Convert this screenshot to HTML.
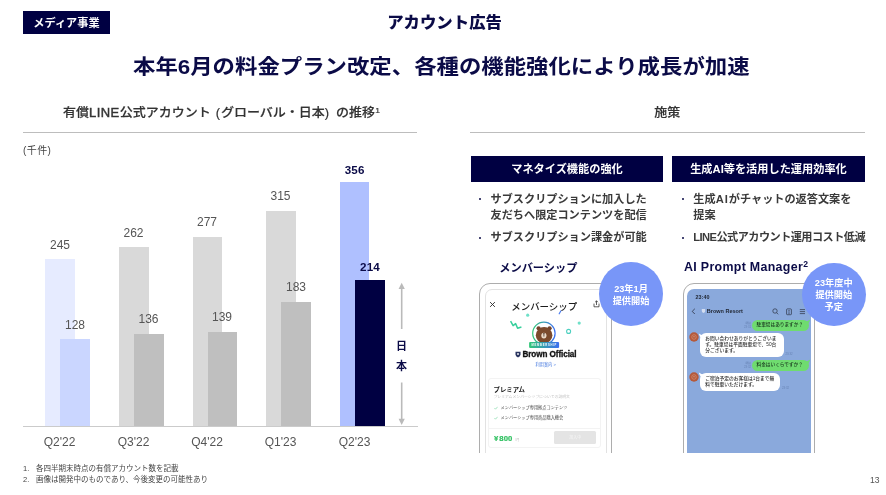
<!DOCTYPE html>
<html lang="ja">
<head>
<meta charset="utf-8">
<title>アカウント広告</title>
<style>
html,body{margin:0;padding:0;background:#fff;}
body{width:886px;height:495px;position:relative;overflow:hidden;
  font-family:"Liberation Sans","Noto Sans CJK JP",sans-serif;color:#333;}
.abs{position:absolute;white-space:nowrap;line-height:1;}
.navy{color:#0b0b47;}
.badge{left:23px;top:10.8px;width:87px;height:22.9px;background:#000042;color:#fff;
  font-size:11.2px;font-weight:700;text-align:center;line-height:24px;}
.cat{left:387.2px;top:13.3px;transform:scaleY(.96);transform-origin:50% 100%;font-size:16.4px;font-weight:900;color:#0b0b47;line-height:18px;}
.head{left:133px;top:53.1px;transform:scaleY(.925);transform-origin:50% 84%;font-size:22.4px;font-weight:700;color:#0b0b47;line-height:28px;}
.sub{font-size:13px;font-weight:500;color:#333;line-height:16px;transform:scaleY(.93);transform-origin:50% 88%;-webkit-text-stroke:.2px #333;}
.lat{letter-spacing:.45px;-webkit-text-stroke:.45px #333;}
.hr{position:absolute;height:1px;background:#bdbdbd;}
.bar{position:absolute;}
.lbl{font-size:12px;color:#555;text-align:center;width:40px;line-height:12px;}
.lblb{font-weight:700;color:#0b0b47;font-size:11.6px;letter-spacing:.25px;}
.xl{font-size:12px;color:#555;text-align:center;width:50px;line-height:12px;}
.fn{font-size:7.5px;color:#444;line-height:9px;}
.box{position:absolute;height:26.4px;background:#000042;color:#fff;font-size:11.2px;font-weight:700;
  text-align:center;line-height:26px;white-space:nowrap;}
.bul{font-size:11.17px;font-weight:700;color:#3a3a3a;line-height:16.5px;}
.dot{position:absolute;width:2px;height:2px;border-radius:50%;background:#0b0b47;}
.ttl{font-size:11px;font-weight:700;color:#0b0b47;line-height:14px;}
.circ{position:absolute;border-radius:50%;background:#7896f8;color:#fff;font-size:9.2px;font-weight:700;
  text-align:center;line-height:12px;white-space:nowrap;}
</style>
</head>
<body>

<div class="abs badge">メディア事業</div>
<div class="abs cat">アカウント広告</div>
<div class="abs head">本年6月の料金プラン改定、各種の機能強化により成長が加速</div>

<!-- left column -->
<div class="abs sub" style="left:63px;top:105px;"><span id="s1">有償</span><span id="s2" class="lat">LINE</span><span id="s3">公式アカウント</span> <span id="s4" style="margin-left:1.4px;margin-right:.8px;">(</span><span id="s5">グローバル・日本</span><span id="s6">)</span> <span id="s7" style="margin-left:3.3px;">の推移</span><span id="s8" style="font-size:8.5px;position:relative;top:-3.8px;margin-left:.3px;">1</span></div>
<div class="hr" style="left:23px;top:132px;width:394px;"></div>
<div class="abs" style="left:23px;top:146px;font-size:10px;letter-spacing:.4px;color:#444;line-height:10px;">(千件)</div>

<!-- chart -->
<div id="chart">
<div class="bar" style="left:45px;top:259px;width:30px;height:168px;background:#e6ebff;"></div>
<div class="bar" style="left:60px;top:339px;width:30px;height:88px;background:#cad6ff;"></div>
<div class="bar" style="left:119px;top:247px;width:29.5px;height:180px;background:#d9d9d9;"></div>
<div class="bar" style="left:133.5px;top:334px;width:30px;height:93px;background:#bfbfbf;"></div>
<div class="bar" style="left:192.5px;top:236.6px;width:29.5px;height:190px;background:#d9d9d9;"></div>
<div class="bar" style="left:207.5px;top:332px;width:29.5px;height:95px;background:#bfbfbf;"></div>
<div class="bar" style="left:266px;top:211px;width:30px;height:216px;background:#d9d9d9;"></div>
<div class="bar" style="left:281px;top:301.5px;width:30px;height:125.5px;background:#bfbfbf;"></div>
<div class="bar" style="left:340px;top:182.2px;width:29.4px;height:244.8px;background:#afc0ff;"></div>
<div class="bar" style="left:355px;top:280.2px;width:30px;height:146.8px;background:#000042;"></div>
<div class="hr" style="left:23px;top:426.2px;width:394.5px;background:#cbcbcb;"></div>

<div class="abs lbl" style="left:40px;top:238.5px;">245</div>
<div class="abs lbl" style="left:55px;top:318.5px;">128</div>
<div class="abs lbl" style="left:113.5px;top:226.5px;">262</div>
<div class="abs lbl" style="left:128.5px;top:313px;">136</div>
<div class="abs lbl" style="left:187px;top:216px;">277</div>
<div class="abs lbl" style="left:202px;top:311px;">139</div>
<div class="abs lbl" style="left:260.5px;top:190px;">315</div>
<div class="abs lbl" style="left:276px;top:281px;">183</div>
<div class="abs lbl lblb" style="left:334.7px;top:163.7px;">356</div>
<div class="abs lbl lblb" style="left:350px;top:261.2px;">214</div>

<div class="abs xl" style="left:34.5px;top:436px;">Q2'22</div>
<div class="abs xl" style="left:108.5px;top:436px;">Q3'22</div>
<div class="abs xl" style="left:182px;top:436px;">Q4'22</div>
<div class="abs xl" style="left:255.5px;top:436px;">Q1'23</div>
<div class="abs xl" style="left:329.5px;top:436px;">Q2'23</div>

<svg class="abs" style="left:395px;top:280px;" width="14" height="148" viewBox="0 0 14 148">
  <path d="M6.7 8 V49" stroke="#bababa" stroke-width="1.6" fill="none"/>
  <path d="M6.7 2.8 L9.8 9 H3.6 Z" fill="#bababa"/>
  <path d="M6.7 102.5 V140" stroke="#bababa" stroke-width="1.6" fill="none"/>
  <path d="M6.7 145 L9.8 138.8 H3.6 Z" fill="#bababa"/>
</svg>
<div class="abs" style="left:396px;top:340.5px;font-size:11px;font-weight:700;color:#0b0b47;line-height:11px;">日</div>
<div class="abs" style="left:396px;top:361px;font-size:11px;font-weight:700;color:#0b0b47;line-height:11px;">本</div>
</div>

<div class="abs fn" style="left:23px;top:464px;">1.</div>
<div class="abs fn" style="left:36px;top:464px;">各四半期末時点の有償アカウント数を記載</div>
<div class="abs fn" style="left:23px;top:475.3px;">2.</div>
<div class="abs fn" style="left:36px;top:475.3px;">画像は開発中のものであり、今後変更の可能性あり</div>

<!-- right column -->
<div class="abs sub" style="left:654.3px;top:105px;font-size:13px;">施策</div>
<div class="hr" style="left:470px;top:132px;width:395px;"></div>
<div class="box" style="left:471px;top:156px;width:192px;">マネタイズ機能の強化</div>
<div class="box" style="left:672px;top:156px;width:193px;">生成AI等を活用した運用効率化</div>

<div class="dot" style="left:479px;top:198px;"></div>
<div class="abs bul" style="left:490.5px;top:190.5px;">サブスクリプションに加入した<br>友だちへ限定コンテンツを配信</div>
<div class="dot" style="left:479px;top:236.6px;"></div>
<div class="abs bul" style="left:490.5px;top:229.2px;">サブスクリプション課金が可能</div>

<div class="dot" style="left:681.6px;top:198px;"></div>
<div class="abs bul" style="left:693.3px;top:190.5px;">生成<span style="letter-spacing:1px;">AI</span>がチャットの返答文案を<br>提案</div>
<div class="dot" style="left:681.6px;top:236.6px;"></div>
<div class="abs bul" style="left:693.3px;top:229.2px;letter-spacing:-.55px;">LINE公式アカウント運用コスト低減</div>

<div class="abs ttl" style="left:499.3px;top:260.5px;font-size:11.2px;">メンバーシップ</div>
<div class="abs ttl" style="left:684px;top:260px;font-size:12.4px;letter-spacing:.32px;">AI Prompt Manager<span style="font-size:8.6px;position:relative;top:-3.6px;margin-left:.3px;">2</span></div>

<!-- phone 1 -->
<div id="ph1" style="position:absolute;left:479px;top:283px;width:134px;height:170px;overflow:hidden;">
  <div style="position:absolute;left:.2px;top:-.1px;width:130.9px;height:200px;border:1.3px solid #adadad;border-radius:11px;"></div>
  <div style="position:absolute;left:6px;top:5.5px;width:119.9px;height:200px;border:1px solid #e2e2e2;border-radius:7px;"></div>
</div>
<div id="ph1c">
  <svg class="abs" style="left:489px;top:300.5px;" width="7" height="7" viewBox="0 0 7 7"><path d="M1.1 1.1 L5.9 5.9 M5.9 1.1 L1.1 5.9" stroke="#2a2a2a" stroke-width=".9" fill="none"/></svg>
  <div class="abs" style="left:511.3px;top:301.4px;font-size:9.45px;font-weight:500;color:#1c1c1c;line-height:11px;">メンバーシップ</div>
  <svg class="abs" style="left:593px;top:300px;" width="7" height="8" viewBox="0 0 7 8"><path d="M1 3.6 V6.8 H6 V3.6 M3.5 5 V0.9 M2.1 2.2 L3.5 0.8 L4.9 2.2" stroke="#2a2a2a" stroke-width=".75" fill="none"/></svg>
  <svg class="abs" style="left:505px;top:308px;" width="80" height="42" viewBox="0 0 80 42">
    <defs><linearGradient id="rg" x1="0" y1="0" x2="1" y2="0"><stop offset="0" stop-color="#32c878"/><stop offset="1" stop-color="#3c6ef0"/></linearGradient></defs>
    <path d="M5.6 13.1 L8.1 17.6 L10.6 15.6 L12.6 20.2 L16.4 19" stroke="#36cf9c" stroke-width="1.5" fill="none" stroke-linejoin="round"/>
    <circle cx="22.7" cy="7.2" r="1.6" fill="#6fe0c8"/>
    <circle cx="74.2" cy="15.1" r="1.6" fill="#6fe0c8"/>
    <circle cx="63.6" cy="23.4" r="2" fill="none" stroke="#4fd0c0" stroke-width="1.1"/>
    <path d="M54.2 5.8 L55.8 3" stroke="#4a7cf0" stroke-width="1.2" fill="none" stroke-linecap="round"/>
    <circle cx="38.9" cy="25.3" r="11.2" fill="#fff" stroke="url(#rg)" stroke-width="1.2"/>
    <circle cx="33.6" cy="20.3" r="2.1" fill="#74432a"/>
    <circle cx="44.6" cy="20.3" r="2.1" fill="#74432a"/>
    <ellipse cx="39.1" cy="27.3" rx="8.3" ry="8.2" fill="#7b4a2c"/>
    <ellipse cx="38.9" cy="27.6" rx="2.6" ry="2.9" fill="#ead8c6"/>
    <path d="M38.1 25.6 H39.7 M38.9 25.6 V28.6" stroke="#3a2418" stroke-width=".7" fill="none"/>
    <rect x="24.1" y="34" width="30" height="6.1" rx="1.1" fill="url(#rg)"/>
    <text x="39.3" y="38.1" font-size="2.7" font-weight="700" fill="#fff" text-anchor="middle" letter-spacing=".75" font-family="Liberation Sans, sans-serif">MEMBERSHIP</text>
  </svg>
  <svg class="abs" style="left:515px;top:351px;" width="6" height="7" viewBox="0 0 6 7"><path d="M.5 .8 H5.5 V3.6 Q5.5 5.6 3 6.5 Q.5 5.6 .5 3.6 Z" fill="#2a3560"/><circle cx="3" cy="3" r=".9" fill="#fff"/></svg>
  <div class="abs" style="left:522.5px;top:349.5px;font-size:8.15px;font-weight:700;color:#111;line-height:10px;letter-spacing:-.08px;-webkit-text-stroke:.3px #111;">Brown Official</div>
  <div class="abs" style="left:535.5px;top:361.5px;font-size:4.2px;color:#4a7ce0;line-height:6px;">利用案内 &gt;</div>

  <div style="position:absolute;left:488px;top:378px;width:113px;height:69.6px;border:1px solid #f3f3f3;border-radius:3px;box-sizing:border-box;"></div>
  <div class="abs" style="left:493.5px;top:384.5px;font-size:6.4px;font-weight:700;color:#1a1a1a;line-height:9px;">プレミアム</div>
  <div class="abs" style="left:493.5px;top:394px;font-size:3.85px;color:#c2c2c2;line-height:6px;">プレミアムメンバーシップについての説明文</div>
  <svg class="abs" style="left:494px;top:406px;" width="4" height="4" viewBox="0 0 4 4"><path d="M.4 2 L1.5 3.2 L3.6 .8" stroke="#6fd39a" stroke-width=".6" fill="none"/></svg>
  <div class="abs" style="left:500.5px;top:405.3px;font-size:4.2px;color:#4a4a4a;line-height:6px;">メンバーシップ専用拠点コンテンツ</div>
  <svg class="abs" style="left:494px;top:415.5px;" width="4" height="4" viewBox="0 0 4 4"><path d="M.4 2 L1.5 3.2 L3.6 .8" stroke="#6fd39a" stroke-width=".6" fill="none"/></svg>
  <div class="abs" style="left:500.5px;top:414.7px;font-size:4.2px;color:#4a4a4a;line-height:6px;">メンバーシップ専用商品購入機会</div>
  <div style="position:absolute;left:489px;top:428.2px;width:111px;height:1px;background:#f3f3f3;"></div>
  <div class="abs" style="left:494px;top:434px;font-size:7.7px;font-weight:700;color:#2fc060;line-height:9px;letter-spacing:.1px;-webkit-text-stroke:.2px #2fc060;">¥<span style="margin-left:.9px">800</span></div>
  <div class="abs" style="left:515px;top:436.5px;font-size:3.6px;color:#c4c4c4;line-height:6px;">/月</div>
  <div style="position:absolute;left:554px;top:431.4px;width:42.2px;height:12.5px;background:#e4e4e4;border-radius:1.5px;"></div>
  <div class="abs" style="left:554px;top:435px;width:42.3px;text-align:center;font-size:4px;color:#f6f6f6;line-height:6px;">加入中</div>
</div>

<!-- phone 2 -->
<div id="ph2" style="position:absolute;left:682px;top:283px;width:135px;height:170px;overflow:hidden;">
  <div style="position:absolute;left:.9px;top:-.1px;width:130.3px;height:200px;border:1.3px solid #adadad;border-radius:11px;"></div>
  <div style="position:absolute;left:5px;top:6px;width:124.1px;height:163.5px;background:#8aa9dc;border-radius:7px 7px 0 0;"></div>
</div>
<div id="ph2c">
  <div class="abs" style="left:695.6px;top:294px;font-size:5.4px;font-weight:700;color:#1e2430;line-height:6px;">23:40</div>
  <svg class="abs" style="left:690px;top:307px;" width="7" height="9" viewBox="0 0 7 9"><path d="M4.8 1.8 L2.2 4.4 L4.8 7" stroke="#2a3040" stroke-width=".8" fill="none"/></svg>
  <svg class="abs" style="left:700.5px;top:308px;" width="5" height="6" viewBox="0 0 5 6"><path d="M.8 .9 H4.2 V3.1 Q4.2 4.5 2.5 5.1 Q.8 4.5 .8 3.1 Z" fill="#dfe6f3" opacity=".85"/></svg>
  <div class="abs" style="left:706.8px;top:308px;font-size:5.5px;font-weight:700;color:#1e2430;line-height:7px;">Brown Resort</div>
  <svg class="abs" style="left:771px;top:306.5px;" width="36" height="10" viewBox="0 0 36 10">
    <circle cx="4" cy="4" r="2.2" stroke="#2a3040" stroke-width=".7" fill="none"/><path d="M5.6 5.7 L7.2 7.3" stroke="#2a3040" stroke-width=".7"/>
    <rect x="15.6" y="1.9" width="4.8" height="5.8" rx=".7" stroke="#2a3040" stroke-width=".7" fill="none"/><path d="M17 3.6 H19 M17 5 H19 M17 6.3 H19" stroke="#2a3040" stroke-width=".45"/>
    <path d="M28.8 2.6 H34 M28.8 4.6 H34 M28.8 6.6 H34" stroke="#2a3040" stroke-width=".7"/>
  </svg>

  <div style="position:absolute;left:752px;top:319.6px;width:57px;height:11.5px;background:#6fdc6f;border-radius:5.7px;"></div>
  <svg class="abs" style="left:804px;top:318.6px;" width="7" height="6" viewBox="0 0 7 6"><path d="M0 2.5 Q4 2.5 6.2 .4 Q5.6 3.6 3.6 5.2 Z" fill="#6fdc6f"/></svg>
  <div class="abs" style="left:756.5px;top:322px;font-size:4.66px;font-weight:500;color:#15301a;line-height:6.5px;">駐車場はありますか？</div>
  <div class="abs" style="left:742px;top:320.6px;width:9px;text-align:right;font-size:2.8px;color:#6783b4;line-height:4.6px;">既読<br>23:31</div>

  <svg class="abs" style="left:688.5px;top:331.8px;" width="10" height="10" viewBox="0 0 10 10"><circle cx="5" cy="5" r="4.7" fill="#b5593a"/><circle cx="5" cy="5" r="2.3" fill="none" stroke="#d99a7c" stroke-width=".6"/><path d="M3.9 5.2 Q5 3.6 6.1 5.2" stroke="#e6b59c" stroke-width=".5" fill="none"/></svg>
  <svg class="abs" style="left:697.5px;top:332.6px;" width="7" height="6" viewBox="0 0 7 6"><path d="M7 2.5 Q3 2.5 .8 .4 Q1.4 3.6 3.4 5.2 Z" fill="#fff"/></svg>
  <div style="position:absolute;left:700px;top:333.3px;width:83.5px;height:23.8px;background:#fff;border-radius:6px;"></div>
  <div class="abs" style="left:705.2px;top:336.2px;font-size:4.76px;color:#2a2a2a;line-height:6.1px;font-weight:500;">お問い合わせありがとうございま<br>す。駐車場は平面駐車場で、50台<br>分ございます。</div>
  <div class="abs" style="left:785.5px;top:351.7px;font-size:2.8px;color:#6783b4;line-height:4px;">23:32</div>

  <div style="position:absolute;left:752px;top:359.6px;width:57px;height:11.5px;background:#6fdc6f;border-radius:5.7px;"></div>
  <svg class="abs" style="left:804px;top:358.6px;" width="7" height="6" viewBox="0 0 7 6"><path d="M0 2.5 Q4 2.5 6.2 .4 Q5.6 3.6 3.6 5.2 Z" fill="#6fdc6f"/></svg>
  <div class="abs" style="left:756.5px;top:362px;font-size:4.66px;font-weight:500;color:#15301a;line-height:6.5px;">料金はいくらですか？</div>
  <div class="abs" style="left:742px;top:360.8px;width:9px;text-align:right;font-size:2.8px;color:#6783b4;line-height:4.6px;">既読<br>23:32</div>

  <svg class="abs" style="left:688.5px;top:371.6px;" width="10" height="10" viewBox="0 0 10 10"><circle cx="5" cy="5" r="4.7" fill="#b5593a"/><circle cx="5" cy="5" r="2.3" fill="none" stroke="#d99a7c" stroke-width=".6"/><path d="M3.9 5.2 Q5 3.6 6.1 5.2" stroke="#e6b59c" stroke-width=".5" fill="none"/></svg>
  <svg class="abs" style="left:697.5px;top:372.2px;" width="7" height="6" viewBox="0 0 7 6"><path d="M7 2.5 Q3 2.5 .8 .4 Q1.4 3.6 3.4 5.2 Z" fill="#fff"/></svg>
  <div style="position:absolute;left:700px;top:372.9px;width:80.3px;height:18.1px;background:#fff;border-radius:6px;"></div>
  <div class="abs" style="left:705.2px;top:375.9px;font-size:4.76px;color:#2a2a2a;line-height:6px;font-weight:500;">ご宿泊予定のお客様は1台まで無<br>料で駐車いただけます。</div>
  <div class="abs" style="left:782px;top:385.7px;font-size:2.8px;color:#6783b4;line-height:4px;">23:32</div>
</div>

<div class="circ" style="left:599px;top:262px;width:64px;height:64px;"><div style="margin-top:21px;">23年1月<br>提供開始</div></div>
<div class="circ" style="left:802px;top:263px;width:63.5px;height:63px;"><div style="margin-top:13.7px;">23年度中<br>提供開始<br>予定</div></div>

<div class="abs" style="left:870px;top:476px;font-size:8.6px;color:#555;line-height:9px;">13</div>

</body>
</html>
